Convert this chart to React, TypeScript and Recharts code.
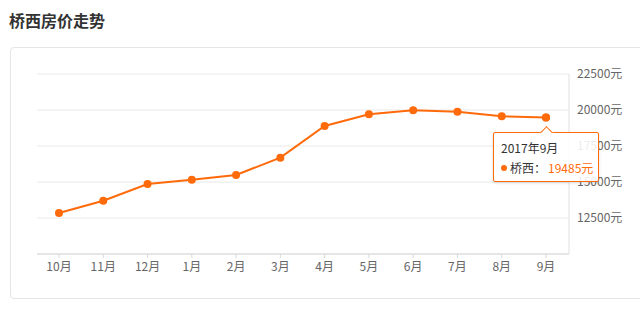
import React from 'react';
import { LineChart, Line, XAxis, YAxis, CartesianGrid, Tooltip } from 'recharts';

const months = ['10月', '11月', '12月', '1月', '2月', '3月', '4月', '5月', '6月', '7月', '8月', '9月'];
const periods = [
  '2016年10月', '2016年11月', '2016年12月', '2017年1月', '2017年2月', '2017年3月',
  '2017年4月', '2017年5月', '2017年6月', '2017年7月', '2017年8月', '2017年9月',
];
const prices = [12850, 13700, 14860, 15160, 15490, 16690, 18890, 19700, 19980, 19880, 19560, 19485];
const yTicks = [10000, 12500, 15000, 17500, 20000, 22500];

const data = months.map((m, i) => ({ month: m, period: periods[i], price: prices[i] }));

const FONT = '"Noto Sans CJK SC", "Microsoft YaHei", sans-serif';
const ORANGE = '#ff6a0a';

const PriceTooltip = ({ active, payload }: any) => {
  if (!active || !payload || !payload.length) return null;
  const row = payload[0].payload;
  return (
    <div
      style={{
        position: 'relative',
        width: 106,
        height: 50,
        boxSizing: 'border-box',
        border: `1px solid ${ORANGE}`,
        borderRadius: 2,
        background: 'rgba(255,255,255,0.88)',
        boxShadow: '0 1px 3px rgba(0,0,0,0.15)',
        fontFamily: FONT,
        fontSize: 12,
        color: '#333',
        padding: '6px 0 0 7px',
        whiteSpace: 'nowrap',
      }}
    >
      <div
        style={{
          position: 'absolute',
          left: 48,
          top: -5,
          width: 8,
          height: 8,
          background: '#fff',
          borderTop: `1px solid ${ORANGE}`,
          borderLeft: `1px solid ${ORANGE}`,
          transform: 'rotate(45deg)',
        }}
      />
      <div style={{ lineHeight: '18px' }}>{row.period}</div>
      <div style={{ lineHeight: '18px', marginTop: 2, display: 'flex', alignItems: 'center', whiteSpace: 'nowrap' }}>
        <span
          style={{ width: 6, height: 6, borderRadius: 3, background: ORANGE, marginRight: 3, flex: 'none' }}
        />
        <span>桥西：</span>
        <span style={{ color: ORANGE, marginLeft: 2 }}>{row.price}元</span>
      </div>
    </div>
  );
};

export default function App() {
  return (
    <div style={{ position: 'absolute', left: 0, top: 0, width: 640, height: 312, background: '#fff', overflow: 'hidden' }}>
      <div
        style={{
          position: 'absolute',
          left: 9,
          top: 9,
          fontFamily: FONT,
          fontSize: 16,
          fontWeight: 'bold',
          color: '#333',
          lineHeight: '22px',
        }}
      >
        桥西房价走势
      </div>
      <div
        style={{
          position: 'absolute',
          left: 10,
          top: 47,
          width: 660,
          height: 252,
          border: '1px solid #e6e6e6',
          borderRadius: 4,
          boxSizing: 'border-box',
        }}
      />
      <div style={{ position: 'absolute', left: 0, top: 0 }}>
        <LineChart width={640} height={312} data={data} margin={{ top: 74, right: 0, bottom: 28, left: 37 }}>
          <CartesianGrid vertical={false} stroke="#e8e8e8" />
          <XAxis
            dataKey="month"
            height={30}
            padding={{ left: 22, right: 23 }}
            axisLine={{ stroke: '#d9d9d9' }}
            tickLine={{ stroke: '#d9d9d9' }}
            tickSize={4}
            tickMargin={4}
            interval={0}
            tick={{ fill: '#666', fontSize: 12, fontFamily: FONT }}
          />
          <YAxis
            orientation="right"
            width={71}
            domain={[10000, 22500]}
            ticks={yTicks}
            interval={0}
            axisLine={{ stroke: '#e0e0e0' }}
            tickLine={false}
            tickFormatter={(v: number) => (v === 10000 ? '' : `${v}元`)}
            tick={{ fill: '#666', fontSize: 12, fontFamily: FONT }}
          />
          <Tooltip
            content={<PriceTooltip />}
            defaultIndex={11}
            active
            cursor={false}
            position={{ x: 493, y: 132 }}
            isAnimationActive={false}
          />
          <Line
            type="linear"
            dataKey="price"
            stroke={ORANGE}
            strokeWidth={2}
            dot={{ r: 4, fill: ORANGE, stroke: ORANGE, strokeWidth: 0 }}
            activeDot={{ r: 4, fill: ORANGE, stroke: ORANGE, strokeWidth: 0 }}
            isAnimationActive={false}
          />
        </LineChart>
      </div>
    </div>
  );
}
